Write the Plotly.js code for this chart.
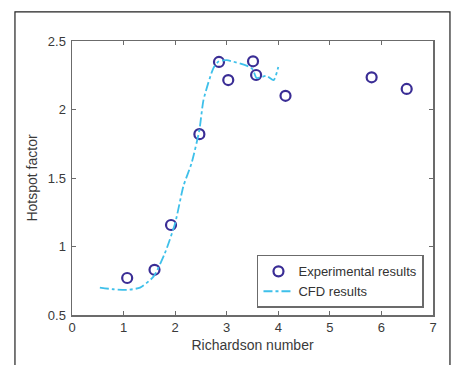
<!DOCTYPE html>
<html><head><meta charset="utf-8">
<script src="https://cdn.plot.ly/plotly-3.0.1.min.js"></script>
<style>body{margin:0;background:#fff}#chart{width:457px;height:365px}</style>
</head><body><div id="chart"></div>
<script>
var expRi = [1.07, 1.6, 1.92, 2.47, 2.85, 3.03, 3.51, 3.57, 4.14, 5.81, 6.49];
var expHotspot = [0.77, 0.83, 1.157, 1.82, 2.347, 2.215, 2.352, 2.252, 2.10, 2.235, 2.15];
var cfdRi = [0.54, 0.8, 1.06, 1.32, 1.58, 1.8, 2.0, 2.16, 2.32, 2.47, 2.55, 2.74, 2.84, 3.0, 3.45, 3.51, 3.58, 3.77, 3.91, 4.0];
var cfdHotspot = [0.70, 0.688, 0.683, 0.70, 0.78, 0.95, 1.17, 1.44, 1.61, 1.85, 2.07, 2.30, 2.35, 2.36, 2.31, 2.29, 2.23, 2.245, 2.215, 2.31];
var xTicks = [0, 1, 2, 3, 4, 5, 6, 7];
var yTicks = [0.5, 1, 1.5, 2, 2.5];

var font = 'Liberation Sans, Arial, sans-serif';
var traces = [
  {x: expRi, y: expHotspot, mode: 'markers', type: 'scatter', name: 'Experimental results',
   marker: {symbol: 'circle-open', size: 10, color: '#3a2d95', line: {width: 2.2, color: '#3a2d95'}}},
  {x: cfdRi, y: cfdHotspot, mode: 'lines', type: 'scatter', name: 'CFD results',
   line: {color: '#3ec0ea', width: 1.8, dash: 'dashdot', shape: 'spline', smoothing: 0.6}}
];
var axisCommon = {showgrid: false, zeroline: false, showline: true, linecolor: '#6b6b6b', linewidth: 1.5,
  mirror: 'ticks', ticks: 'inside', ticklen: 4, tickcolor: '#6b6b6b',
  tickfont: {family: font, size: 13, color: '#3a3a3a'}};
var layout = {
  width: 457, height: 365,
  margin: {l: 72, r: 24, t: 41, b: 50},
  paper_bgcolor: '#fff', plot_bgcolor: '#fff',
  showlegend: true,
  xaxis: Object.assign({}, axisCommon, {range: [0, 7], tickvals: xTicks,
    title: {text: 'Richardson number', font: {family: font, size: 14, color: '#3a3a3a'}, standoff: 6}}),
  yaxis: Object.assign({}, axisCommon, {range: [0.5, 2.5], tickvals: yTicks, ticklabelstandoff: 2,
    title: {text: 'Hotspot factor', font: {family: font, size: 14, color: '#3a3a3a'}, standoff: 7}}),
  legend: {x: 0.975, y: 0.026, xanchor: 'right', yanchor: 'bottom', bgcolor: '#fff',
    bordercolor: '#6b6b6b', borderwidth: 1.5, font: {family: font, size: 13, color: '#333'},
    tracegroupgap: 0, itemwidth: 30},
  shapes: [{type: 'rect', xref: 'paper', yref: 'paper', x0: -0.158, x1: 1.047, y0: -0.2, y1: 1.106,
    line: {color: '#222', width: 1.2}, fillcolor: 'rgba(0,0,0,0)', layer: 'below'}]
};
Plotly.newPlot('chart', traces, layout, {displayModeBar: false, staticPlot: true});
</script></body></html>
